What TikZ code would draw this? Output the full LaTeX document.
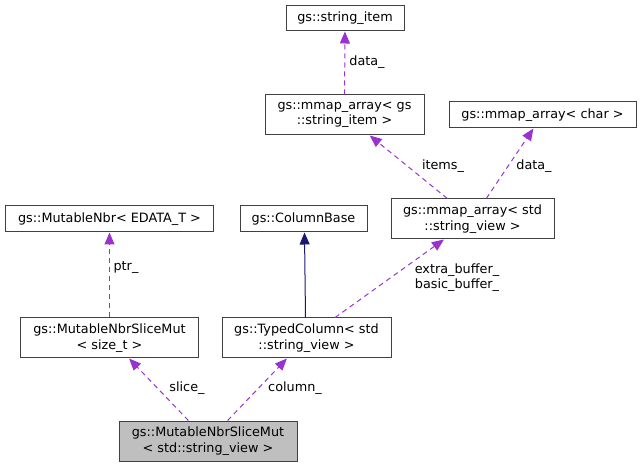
\documentclass[tikz,border=0pt]{standalone}
\usepackage{fontspec}
\setmainfont{DejaVu Sans}
\usetikzlibrary{arrows.meta}
\definecolor{edgepurple}{HTML}{9A32CD}
\definecolor{edgenavy}{HTML}{191970}
\definecolor{maingray}{HTML}{BFBFBF}
\definecolor{boxline}{HTML}{404040}
\begin{document}
\begin{tikzpicture}[x=1pt,y=-1pt,
  cls/.style={draw=boxline,line width=1pt,fill=white,inner sep=0pt,align=center,
    font=\fontsize{12.8}{15.5}\selectfont,anchor=center},
  usedep/.style={edgepurple,line width=1pt,dash pattern=on 5pt off 4pt,
    -{Triangle[length=12pt,width=10pt]}},
  inherit/.style={edgenavy,line width=1pt,-{Triangle[length=12pt,width=10pt]}},
  elabel/.style={font=\fontsize{12.8}{15}\selectfont,inner sep=0pt,align=center}]
\useasboundingbox (0,0) rectangle (641,468);
% nodes
\node[cls,minimum width=118pt,minimum height=25pt] (stritem) at (345,18.5) {gs::string\_item};
\node[cls,minimum width=159pt,minimum height=40pt] (mmapgs) at (344.5,115) {gs::mmap\_array< gs\\::string\_item >};
\node[cls,minimum width=187pt,minimum height=26pt] (mmapchar) at (542.5,115) {gs::mmap\_array< char >};
\node[cls,minimum width=163pt,minimum height=40pt] (mmapstd) at (472.5,219) {gs::mmap\_array< std\\::string\_view >};
\node[cls,minimum width=208pt,minimum height=26pt] (mnbr) at (109.5,219) {gs::MutableNbr< EDATA\_T >};
\node[cls,minimum width=127pt,minimum height=26pt] (colbase) at (303.5,219) {gs::ColumnBase};
\node[cls,minimum width=178pt,minimum height=40pt] (slicesize) at (109.5,338) {gs::MutableNbrSliceMut\\< size\_t >};
\node[cls,minimum width=169pt,minimum height=40pt] (typedcol) at (306.5,338) {gs::TypedColumn< std\\::string\_view >};
\node[cls,fill=maingray,minimum width=178pt,minimum height=40pt] (main) at (208,441) {gs::MutableNbrSliceMut\\< std::string\_view >};
% edges
\draw[usedep] (mmapgs) -- (stritem);
\draw[usedep] (mmapstd) -- (mmapgs);
\draw[usedep] (mmapstd) -- (mmapchar);
\draw[usedep] (typedcol) -- (mmapstd);
\draw[inherit] (typedcol.north -| 305.5,0) -- (colbase.south -| 304.5,0);
\draw[usedep] (slicesize) -- (mnbr);
\draw[usedep] (main) -- (slicesize);
\draw[usedep] (main) -- (typedcol);
% labels
\node[elabel] (l1) at (367,62) {data\_};
\node[elabel] (l2) at (443,166) {items\_};
\node[elabel] (l3) at (534,166) {data\_};
\node[elabel] (l4) at (457,278) {extra\_buffer\_\\basic\_buffer\_};
\node[elabel] (l5) at (126,268) {ptr\_};
\node[elabel] (l6) at (187,388) {slice\_};
\node[elabel] (l7) at (295,388) {column\_};
\end{tikzpicture}
\end{document}
